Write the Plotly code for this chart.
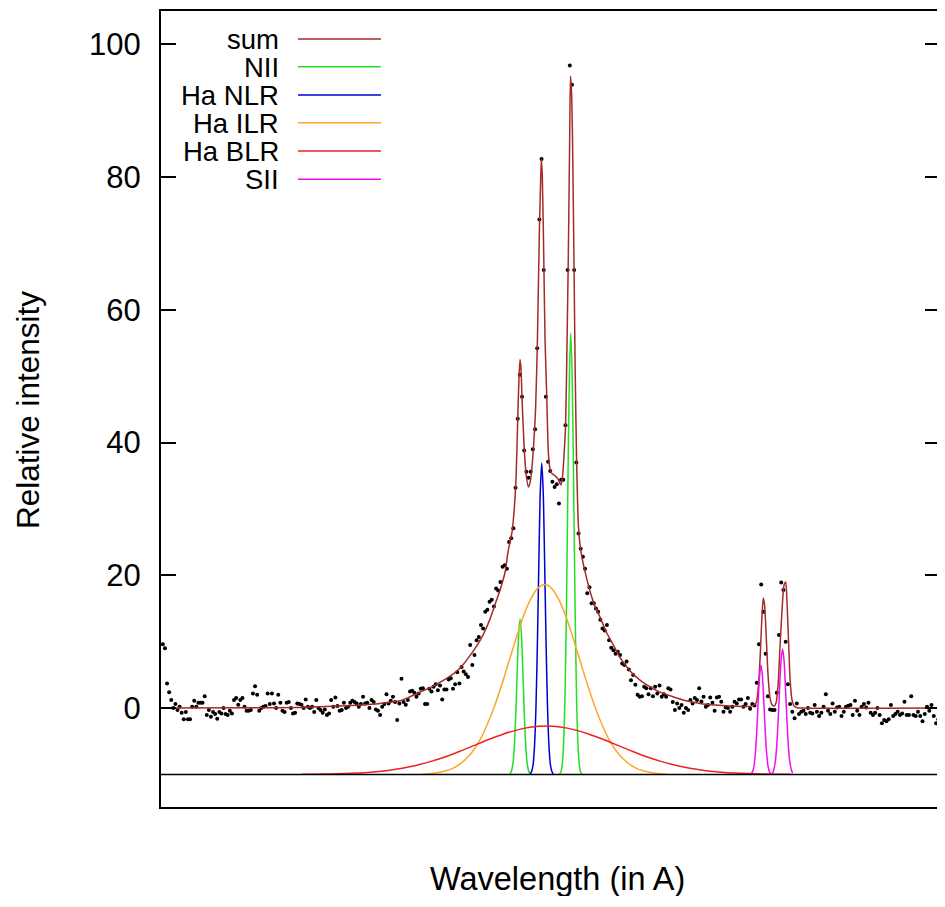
import numpy as np
import plotly.graph_objects as go

# ---------------- data ----------------
# observed spectrum on an SDSS-style log-linear wavelength grid
LOGLAM_START = 3.7993
LOGLAM_STEP = 0.0001
obs_flux = [
    9.6, 9.0, 3.7, 2.4, 1.2, 0.0, 0.6, -0.3, 0.2, -0.7,
    -1.7, -0.6, -1.7, -1.7, 0.2, 1.1, 0.2, 0.8, 0.8, 0.8,
    1.8, -1.05, -0.3, -1.3, -0.6, -0.9, -1.6, -0.6, -0.8, 0.0,
    -0.9, -1.05, -0.4, -0.8, 1.2, 1.5, 0.5, 1.2, 1.5, 0.2,
    -0.4, -0.4, -0.3, 2.2, 3.3, 2.0, -0.4, 0.0, 0.2, 0.3,
    2.2, 0.6, 2.2, 0.7, 0.0, 2.0, 0.8, -0.4, -0.6, 0.8,
    0.9, 0.0, -0.8, -0.7, 0.7, 0.6, 0.5, 0.0, 1.3, 0.2,
    0.0, 0.2, -0.6, 1.2, 0.0, -0.3, -0.7, -0.2, -1.05, -0.8,
    1.2, 0.2, 1.6, 0.3, -0.4, -0.3, 0.8, 0.0, 0.2, 0.8,
    1.1, 0.9, 0.7, 0.2, 0.6, 1.7, 0.7, 0.8, 0.0, 1.2,
    0.9, -0.2, -0.4, -1.05, 0.2, 0.6, 2.1, 0.7, 1.1, 1.7,
    0.9, -1.8, 0.7, 4.4, 0.9, 0.5, 1.2, 2.5, 2.6, 2.3,
    1.7, 2.2, 2.9, 3.0, 0.6, 0.6, 2.9, 2.5, 3.2, 3.6,
    2.7, 3.4, 1.3, 2.8, 2.8, 4.3, 4.5, 2.9, 3.6, 5.4,
    3.7, 6.2, 5.5, 5.1, 4.7, 9.5, 6.5, 8.0, 10.2, 10.7,
    12.5, 12.0, 14.5, 14.8, 16.0, 16.3, 15.3, 18.0, 17.7, 19.0,
    21.3, 21.5, 21.0, 25.0, 25.6, 27.1, 33.2, 43.6, 50.2, 46.9,
    38.8, 35.6, 34.7, 35.6, 39.0, 42.0, 54.2, 73.6, 82.7, 66.0,
    46.9, 37.1, 35.7, 34.1, 33.3, 33.7, 30.8, 34.4, 34.4, 42.6,
    66.0, 96.8, 93.9, 66.0, 37.0, 26.3, 24.0, 22.8, 21.0, 17.3,
    18.2, 15.8, 15.8, 15.0, 14.5, 13.3, 12.0, 11.7, 12.5, 10.2,
    9.1, 8.7, 8.2, 8.5, 8.0, 6.7, 6.5, 7.0, 5.8, 4.2,
    5.0, 3.5, 2.0, 1.7, 1.8, 3.2, 3.0, 2.1, 3.0, 1.8,
    3.2, 2.2, 3.4, 1.7, 2.1, 1.7, 3.0, 2.8, 0.9, -0.3,
    0.7, 0.0, 0.45, -0.7, 0.0, -0.3, 1.2, 0.7, 1.5, 1.2,
    3.0, 1.0, 1.7, 0.2, 0.45, 1.6, 0.8, -0.4, 1.6, 1.7,
    0.95, -0.55, 0.1, 0.0, -0.55, 0.2, 0.95, 0.7, 1.3, 1.3,
    0.2, 0.6, 1.5, -0.1, 0.6, 0.4, 3.8, 9.6, 18.6, 14.5,
    8.2, 1.8, -0.2, -0.3, -0.3, 2.3, 11.0, 18.9, 17.8, 10.0,
    3.6, 0.6, -0.55, -1.55, 0.7, -0.9, -0.55, -0.4, -0.9, 0.0,
    -0.7, -0.8, 0.45, -0.55, -1.2, -0.7, 0.2, 2.1, -0.4, -0.9,
    0.7, -0.55, 0.1, 0.2, -1.2, -0.55, 0.2, 0.35, 0.45, -1.05,
    1.1, -0.4, -1.05, 0.2, 0.6, 0.1, 0.8, -0.7, -1.05, -0.7,
    0.0, -1.05, -2.3, -1.8, -2.0, -1.7, 0.45, -1.2, -0.9, -0.55,
    -1.05, -0.8, 0.95, -1.05, -1.05, 1.8, -1.05, -1.2, -0.55, -1.2,
    -2.0, -0.9, 0.2, -0.4, 0.45, -1.2, -2.3, -1.7, -1.2, -2.6,
]

# total fit ("sum")
sum_wave = [6298.1, 6360.1, 6394.9, 6422.7, 6436.6, 6450.6, 6464.5, 6471.4, 6478.4, 6487.4,
            6499.3, 6506.2, 6511.1, 6516.7, 6522.2, 6527.1, 6530.6, 6534.1, 6537.6, 6539.6,
            6541.0, 6542.4, 6543.8, 6545.2, 6546.4, 6547.3, 6548.0, 6548.7, 6549.4, 6550.8,
            6552.2, 6553.8, 6555.0, 6556.4, 6557.7, 6558.8, 6560.0, 6561.5, 6562.3, 6562.8,
            6563.5, 6564.5, 6565.4, 6566.6, 6567.7, 6568.9, 6570.3, 6572.4, 6574.4, 6576.5,
            6577.6, 6578.6, 6579.7, 6580.7, 6581.6, 6582.5, 6583.1, 6583.8, 6584.5, 6585.6,
            6586.3, 6587.3, 6588.6, 6589.8, 6591.2, 6593.2, 6596.7, 6600.2, 6603.7, 6607.9,
            6612.7, 6617.6, 6624.6, 6631.5, 6638.5, 6645.4, 6654.5, 6663.5, 6673.3, 6683.7,
            6694.2, 6704.6, 6709.5, 6712.3, 6714.0, 6715.4, 6716.4, 6717.3, 6718.2, 6719.2,
            6720.6, 6722.0, 6723.4, 6724.8, 6726.2, 6727.6, 6729.0, 6730.4, 6731.7, 6732.9,
            6733.8, 6734.9, 6735.9, 6737.3, 6738.7, 6740.8, 6742.9, 6843.8]
sum_flux = [0.0, 0.05, 0.1, 0.3, 0.45, 0.7, 1.1, 1.7, 2.4, 3.3,
            4.8, 6.0, 7.3, 9.0, 11.0, 13.4, 15.6, 17.8, 20.5, 23.5,
            25.0, 26.5, 29.5, 34.5, 43.6, 50.0, 52.5, 51.0, 46.5, 39.5,
            35.3, 33.3, 34.0, 36.5, 40.5, 45.0, 54.5, 72.5, 79.0, 82.7,
            80.0, 68.0, 55.4, 46.9, 38.5, 36.0, 35.3, 35.0, 34.5, 33.6,
            35.0, 38.0, 42.6, 55.0, 68.0, 85.0, 95.2, 93.0, 86.0, 66.0,
            52.0, 38.0, 27.5, 24.5, 22.6, 20.6, 17.6, 15.3, 13.7, 11.5,
            9.6, 7.6, 5.6, 4.2, 3.2, 2.4, 1.7, 1.1, 0.7, 0.45,
            0.3, 0.25, 0.3, 0.8, 3.5, 9.0, 14.0, 16.6, 15.5, 11.5,
            5.0, 1.5, 0.5, 0.3, 0.8, 3.5, 9.5, 15.0, 18.5, 19.0,
            16.0, 10.0, 4.5, 1.2, 0.3, 0.05, 0.0, 0.0]

# fitted components, drawn on an offset baseline
COMPONENT_BASELINE = -10.0

nii_wave = [6541.0, 6542.0, 6543.0, 6544.0, 6545.0, 6546.0, 6547.0, 6548.0, 6549.0, 6550.0,
            6551.0, 6552.0, 6553.0, 6554.0, 6555.0, None,
            6575.3, 6576.3, 6577.3, 6578.3, 6579.3, 6580.3, 6581.3, 6582.3, 6583.3, 6584.3,
            6585.3, 6586.3, 6587.3, 6588.3, 6589.3, 6590.3, 6591.3]
nii_flux = [-9.9, -9.5, -8.4, -5.8, -1.1, 5.3, 11.0, 13.4, 11.0, 5.3,
            -1.1, -5.8, -8.4, -9.5, -9.9, None,
            -9.95, -9.7, -8.6, -5.4, 2.0, 15.3, 33.4, 49.7, 56.5, 49.7,
            33.4, 15.3, 2.0, -5.4, -8.6, -9.7, -9.95]

nlr_wave = [6555.1, 6556.1, 6557.1, 6558.1, 6559.1, 6560.1, 6561.1, 6562.1, 6563.1, 6564.1,
            6565.1, 6566.1, 6567.1, 6568.1, 6569.1, 6570.1, 6571.1]
nlr_flux = [-9.9, -9.5, -8.5, -5.6, 0.3, 10.0, 22.1, 32.7, 36.9, 32.7,
            22.1, 10.0, 0.3, -5.6, -8.5, -9.5, -9.9]

ilr_wave = [6480.1, 6485.1, 6490.1, 6495.1, 6500.1, 6505.1, 6510.1, 6515.1, 6520.1, 6525.1,
            6530.1, 6535.1, 6540.1, 6545.1, 6550.1, 6555.1, 6560.1, 6565.1, 6570.1, 6575.1,
            6580.1, 6585.1, 6590.1, 6595.1, 6600.1, 6605.1, 6610.1, 6615.1, 6620.1, 6625.1,
            6630.1, 6635.1, 6640.1, 6645.1, 6650.1]
ilr_flux = [-9.95, -9.9, -9.75, -9.5, -9.2, -8.6, -7.7, -6.5, -4.8, -2.5,
            0.2, 3.4, 6.9, 10.4, 13.7, 16.3, 18.0, 18.6, 18.0, 16.3,
            13.7, 10.4, 6.9, 3.4, 0.2, -2.5, -4.8, -6.5, -7.7, -8.6,
            -9.2, -9.5, -9.75, -9.9, -9.95]

blr_wave = [6396.1, 6406.1, 6416.1, 6426.1, 6436.1, 6446.1, 6456.1, 6466.1, 6476.1, 6486.1,
            6496.1, 6506.1, 6516.1, 6526.1, 6536.1, 6546.1, 6556.1, 6566.1, 6576.1, 6586.1,
            6596.1, 6606.1, 6616.1, 6626.1, 6636.1, 6646.1, 6656.1, 6666.1, 6676.1, 6686.1,
            6696.1, 6706.1, 6716.1, 6726.1, 6736.1]
blr_flux = [-9.98, -9.96, -9.93, -9.87, -9.77, -9.62, -9.39, -9.06, -8.61, -8.03,
            -7.33, -6.51, -5.62, -4.74, -3.93, -3.28, -2.85, -2.7, -2.85, -3.28,
            -3.93, -4.74, -5.62, -6.51, -7.33, -8.03, -8.61, -9.06, -9.39, -9.62,
            -9.77, -9.87, -9.93, -9.96, -9.98]

sii_wave = [6708.7, 6709.7, 6710.7, 6711.7, 6712.7, 6713.7, 6714.7, 6715.7, 6716.7, 6717.7,
            6718.7, 6719.7, 6720.7, 6721.7, 6722.7, 6723.7, 6724.7, 6725.7, 6726.7, 6727.7,
            6728.7, 6729.7, 6730.7, 6731.7, 6732.7, 6733.7, 6734.7, 6735.7, 6736.7, 6737.7]
sii_flux = [-9.9, -9.65, -8.9, -7.0, -3.7, 0.76, 4.8, 6.5, 4.8, 0.76,
            -3.7, -7.0, -8.9, -9.65, -9.87, -9.8, -9.2, -8.0, -5.5, -1.5,
            3.2, 7.3, 8.9, 7.3, 3.2, -1.5, -5.5, -8.0, -9.2, -9.8]

legend_names = ["sum", "NII", "Ha NLR", "Ha ILR", "Ha BLR", "SII"]
legend_colors = ["#a52a2a", "#22e022", "#0000d0", "#ffa528", "#ee2020", "#ee11ee"]

X_RANGE = [6298.1, 6838.2]
Y_RANGE = [-14.9, 105.0]
Y_TICKS = [0, 20, 40, 60, 80, 100]

# ---------------- figure ----------------
obs_wave = 10 ** (LOGLAM_START + LOGLAM_STEP * np.arange(len(obs_flux)))
FONT = "Liberation Sans, Arial, Helvetica, sans-serif"
LW = 1.5

fig = go.Figure()
fig.add_trace(go.Scatter(x=obs_wave, y=obs_flux, mode="markers",
                         marker=dict(color="black", size=4), showlegend=False))
fig.add_trace(go.Scatter(x=sum_wave, y=sum_flux, mode="lines", name=legend_names[0],
                         line=dict(color=legend_colors[0], width=LW, shape="spline", smoothing=0.6)))
comps = [(nii_wave, nii_flux), (nlr_wave, nlr_flux), (ilr_wave, ilr_flux),
         (blr_wave, blr_flux), (sii_wave, sii_flux)]
for k, (w, f) in enumerate(comps):
    fig.add_trace(go.Scatter(x=w, y=f, mode="lines", name=legend_names[k + 1],
                             line=dict(color=legend_colors[k + 1], width=LW, shape="spline", smoothing=0.8),
                             connectgaps=False))
fig.add_trace(go.Scatter(x=X_RANGE, y=[COMPONENT_BASELINE, COMPONENT_BASELINE], mode="lines",
                         line=dict(color="black", width=1.4), showlegend=False))
fig.add_trace(go.Scatter(x=[X_RANGE[0]], y=[COMPONENT_BASELINE], yaxis="y2", mode="markers",
                         marker=dict(opacity=0), showlegend=False, hoverinfo="skip"))

# the page body has an 8px margin on every side; size the figure so the page does not overflow
OFF = 8
W, H = 945 - 2 * OFF, 907 - 2 * OFF
L, T = 161 - OFF, 11 - OFF
B = H - (807 - OFF)
pw, ph = W - L, H - T - B

def px_x(p):
    return (p - OFF - L) / pw

def px_y(p):
    return (H - B - (p - OFF)) / ph

annotations = []
shapes = []
rows_py = [39, 66.7, 95, 122.7, 151, 179.3]
for name, col, py in zip(legend_names, legend_colors, rows_py):
    annotations.append(dict(x=px_x(281), y=px_y(py), xref="paper", yref="paper", text=name,
                            showarrow=False, xanchor="right", yanchor="middle",
                            height=26, valign="middle",
                            font=dict(family=FONT, size=27.5, color="black")))
    shapes.append(dict(type="line", xref="paper", yref="paper", x0=px_x(298), x1=px_x(381),
                       y0=px_y(py), y1=px_y(py), line=dict(color=col, width=1.5)))

annotations.append(dict(x=px_x(557), y=px_y(879), xref="paper", yref="paper",
                        text="Wavelength (in A)", showarrow=False, xanchor="center", yanchor="middle",
                        height=34, valign="middle",
                        font=dict(family=FONT, size=32.5, color="black")))
annotations.append(dict(x=px_x(28), y=px_y(410), xref="paper", yref="paper",
                        text="Relative intensity", showarrow=False, textangle=-90,
                        xanchor="center", yanchor="middle",
                        font=dict(family=FONT, size=31.5, color="black")))

fig.update_layout(
    width=W, height=H,
    margin=dict(l=L, r=0, t=T, b=B),
    paper_bgcolor="white", plot_bgcolor="white",
    showlegend=False,
    font=dict(family=FONT, color="black"),
    xaxis=dict(range=X_RANGE, showticklabels=False, ticks="", showgrid=False, zeroline=False,
               showline=True, linecolor="black", linewidth=2, mirror=True),
    yaxis=dict(range=Y_RANGE, tickvals=Y_TICKS, ticks="inside", ticklen=15, tickwidth=1.5,
               tickcolor="black", showgrid=False, zeroline=False, showline=True,
               linecolor="black", linewidth=2, mirror=False,
               tickfont=dict(family=FONT, size=31, color="black"), ticklabelstandoff=12),
    yaxis2=dict(range=Y_RANGE, tickvals=Y_TICKS, overlaying="y", side="right",
                ticks="inside", ticklen=12, tickwidth=1.5, tickcolor="black",
                showticklabels=False, showgrid=False, zeroline=False, showline=False),
    annotations=annotations,
    shapes=shapes,
)

fig.write_html("out.html")
